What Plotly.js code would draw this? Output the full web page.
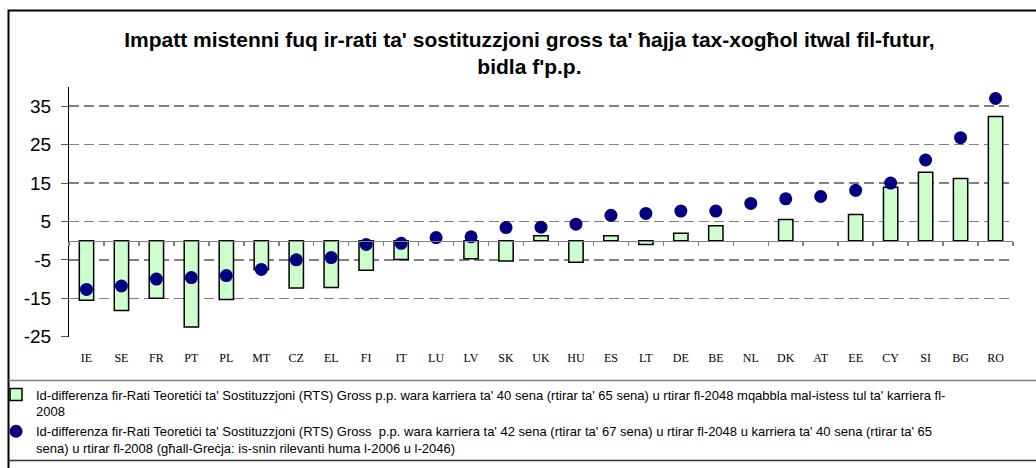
<!DOCTYPE html>
<html>
<head>
<meta charset="utf-8">
<script src="https://cdn.plot.ly/plotly-3.0.1.min.js"></script>
<style>html,body{margin:0;padding:0;background:#fff;} #chart{width:1036px;height:468px;}</style>
</head>
<body>
<div id="chart"></div>
<script>
const countries = ['IE','SE','FR','PT','PL','MT','CZ','EL','FI','IT','LU','LV','SK','UK','HU','ES','LT','DE','BE','NL','DK','AT','EE','CY','SI','BG','RO'];
const rts40 = [-15.5,-18.2,-15.0,-22.5,-15.3,-7.6,-12.3,-12.2,-7.7,-4.9,null,-4.7,-5.3,1.3,-5.6,1.3,-1.0,1.9,3.9,null,5.5,null,6.8,13.9,17.8,16.2,32.3];
const rts42 = [-12.7,-11.8,-10.0,-9.6,-9.1,-7.5,-5.0,-4.4,-1.0,-0.7,0.8,1.0,3.4,3.5,4.3,6.6,7.1,7.7,7.7,9.7,10.9,11.5,13.1,15.0,21.0,26.8,37.0];
const yTicks = [35,25,15,5,-5,-15,-25];

const name1 = "Id-differenza fir-Rati Teoretiċi ta' Sostituzzjoni (RTS) Gross p.p. wara karriera ta' 40 sena (rtirar ta' 65 sena) u rtirar fl-2048 mqabbla mal-istess tul ta' karriera fl-<br>2008";
const name2 = "Id-differenza fir-Rati Teoretiċi ta' Sostituzzjoni (RTS) Gross  p.p. wara karriera ta' 42 sena (rtirar ta' 67 sena) u rtirar fl-2048 u karriera ta' 40 sena (rtirar ta' 65<br>sena) u rtirar fl-2008 (għall-Greċja: is-snin rilevanti huma l-2006 u l-2046)";
const titleText = "Impatt mistenni fuq ir-rati ta' sostituzzjoni gross ta' ħajja tax-xogħol itwal fil-futur,<br>bidla f'p.p.";

const traces = [
  {type:'bar', x:countries, y:rts40, name:name1, legendgroup:'a', width:0.41,
   marker:{color:'#CCFFCC', line:{color:'#000000', width:1.5}}, xaxis:'x', yaxis:'y'},
  {type:'scatter', mode:'markers', x:countries, y:rts42, name:name2, legendgroup:'b',
   marker:{color:'#000080', size:13}, xaxis:'x2', yaxis:'y'}
];

const PL=69, PR=1013, PT=87, PB=337;
const px = v => (v-PL)/(PR-PL);
const py = v => (PB-v)/(PB-PT);

const layout = {
  width:1036, height:468,
  margin:{l:PL, r:1036-PR, t:PT, b:468-PB, autoexpand:false},
  paper_bgcolor:'#ffffff', plot_bgcolor:'#ffffff',
  font:{family:'Liberation Sans, Arial, sans-serif', color:'#000'},
  title:{text:titleText, font:{size:21, family:'Liberation Sans, Arial, sans-serif', weight:'bold', color:'#000'},
         x:0.511, xref:'container', xanchor:'center', y:1-47/468, yref:'container', yanchor:'top'},
  showlegend:true,
  legend:{x:px(-4), xref:'paper', xanchor:'left', y:py(379.5), yref:'paper', yanchor:'top', valign:'top',
          bgcolor:'rgba(0,0,0,0)', font:{size:13, family:'Liberation Sans, Arial, sans-serif', color:'#000'},
          tracegroupgap:0, itemwidth:30, traceorder:'normal'},
  xaxis:{type:'category', categoryarray:countries, categoryorder:'array', range:[-0.5,26.5],
         showline:false, showgrid:false, zeroline:false, ticks:'',
         tickfont:{family:'Liberation Serif, Times New Roman, serif', size:12, color:'#000'},
         ticklabelstandoff:12, fixedrange:true},
  xaxis2:{type:'category', categoryarray:countries, categoryorder:'array', range:[-0.5,26.5],
          overlaying:'x', anchor:'free', position:25.08/65.08, side:'bottom', showticklabels:false,
          showgrid:false, zeroline:false, layer:'above traces',
          showline:true, linecolor:'#808080', linewidth:1.5, ticks:'outside', tickson:'boundaries',
          ticklen:4, tickcolor:'#808080', tickwidth:1.5},
  yaxis:{range:[-25.08,40], tickvals:yTicks, ticktext:yTicks.map(String), showline:true, linecolor:'#000', linewidth:1,
         ticks:'outside', ticklen:7, tickcolor:'#555', tickwidth:1, zeroline:false,
         showgrid:true, gridcolor:'#808080', gridwidth:1.5, griddash:'10px,5px',
         tickfont:{size:19, family:'Liberation Sans, Arial, sans-serif', color:'#000'}, ticklabelstandoff:6},
  shapes:[
    {type:'rect', xref:'paper', yref:'paper', x0:px(8.5), x1:px(1045), y0:py(475), y1:py(10.5), line:{color:'#000', width:2}, layer:'below'},
    {type:'line', xref:'paper', yref:'paper', x0:px(8.5), x1:px(1045), y0:py(380.5), y1:py(380.5), line:{color:'#808080', width:1.5}},
    {type:'line', xref:'paper', yref:'paper', x0:px(8.5), x1:px(1045), y0:py(460.5), y1:py(460.5), line:{color:'#333', width:1.5}}
  ]
};

Plotly.newPlot('chart', traces, layout, {displayModeBar:false, staticPlot:true});
</script>
</body>
</html>
